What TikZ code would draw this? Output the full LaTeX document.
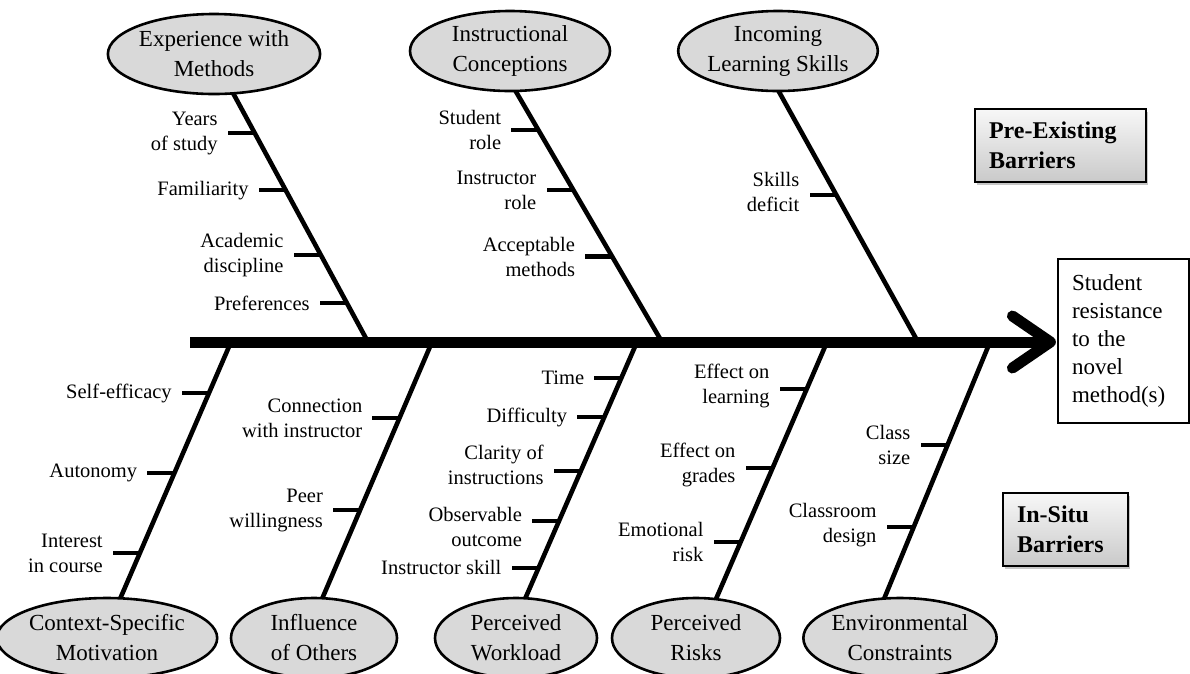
\documentclass[tikz,border=0pt]{standalone}
\usepackage{fontspec}
\setmainfont{Liberation Serif}
\usetikzlibrary{calc,shapes.geometric,shadows,backgrounds}

\tikzset{
  cause/.style={ellipse,draw,line width=2.6pt,fill=gray!30,inner sep=0pt,
    align=center,minimum height=80pt,font=\fontsize{23}{30}\selectfont},
  spine/.style={line width=11pt},
  bone/.style={line width=4.6pt},
  rib/.style={line width=4.2pt},
  lbl/.style={anchor=east,align=right,inner sep=0pt,
    font=\fontsize{20.5}{25}\selectfont},
  effect/.style={draw,line width=1.2pt,align=left,inner xsep=14pt,
    text width=103pt,minimum height=164pt,font=\fontsize{23}{28}\selectfont},
  barrier/.style={draw,line width=1.5pt,top color=gray!6,bottom color=gray!42,
    drop shadow={shadow xshift=2pt,shadow yshift=-3pt,opacity=0.45},
    align=left,inner xsep=14pt,minimum height=73pt,
    font=\fontsize{24}{30}\selectfont\bfseries}
}

\begin{document}
\begin{tikzpicture}[x=1pt,y=-1pt]
  \useasboundingbox (0,0) rectangle (1190,673);
  %% effect and spine
  \node[effect] (res) at (1123.5,341) {Student\\resistance\\to the\\novel\\method(s)};
  \coordinate (tail) at (190,342);
  \coordinate (tip) at ([xshift=-7,yshift=-1]res.west);
  \draw[spine] (tail) -- (tip);
  \draw[spine,line cap=round,line join=round]
    ($(tip)+(-38,-26)$) -- (tip) -- ($(tip)+(-38,26)$);
  %% barrier tags
  \node[barrier,text width=143pt] (pre) at (1060.5,145.5) {Pre-Existing\\Barriers};
  \node[barrier,text width=97pt] (situ) at (1065.5,529.5) {In-Situ\\Barriers};
  %% categories
  \node[cause,minimum width=200pt] (exp) at (214,54) {Experience with\\Methods};
  \node[cause,minimum width=200pt] (conc) at (510,51) {Instructional\\Conceptions};
  \node[cause,minimum width=196pt] (inc) at (778,51) {Incoming\\Learning Skills};
  \node[cause,minimum width=204pt] (mot) at (107,638) {Context-Specific\\Motivation};
  \node[cause,minimum width=166pt] (infl) at (314,638) {Influence\\of Others};
  \node[cause,minimum width=162pt] (work) at (516,638) {Perceived\\Workload};
  \node[cause,minimum width=168pt] (risk) at (696,638) {Perceived\\Risks};
  \node[cause,minimum width=184pt] (env) at (900,638) {Environmental\\Constraints};
  %% bone ends
  \coordinate (b1) at (233,93);  \coordinate (s1) at (368,342);
  \coordinate (b2) at (515,90);  \coordinate (s2) at (662,342);
  \coordinate (b3) at (778,90);  \coordinate (s3) at (918,342);
  \coordinate (sA) at (231,342); \coordinate (bA) at (120,599);
  \coordinate (sB) at (432,342); \coordinate (bB) at (322,599);
  \coordinate (sC) at (637,342); \coordinate (bC) at (525,599);
  \coordinate (sD) at (827,342); \coordinate (bD) at (716,599);
  \coordinate (sE) at (990,342); \coordinate (bE) at (884,599);
  \begin{scope}[on background layer]
    \foreach \a/\b in {b1/s1,b2/s2,b3/s3,sA/bA,sB/bB,sC/bC,sD/bD,sE/bE}
      \draw[bone] (\a) -- (\b);
  \end{scope}
  %% pre-existing causes
  \foreach \f/\txt/\dy in {0.161/{Years\\of study}/0,0.391/Familiarity/0,
      0.649/{Academic\\discipline}/0,0.843/Preferences/0}{
    \draw[rib] ($(b1)!\f!(s1)$) -- ++(-27,0) coordinate (r);
    \node[lbl,yshift=\dy] at ([xshift=-10]r) {\txt};
  }
  \foreach \f/\txt/\dy in {0.159/{Student\\role}/0,0.398/{Instructor\\role}/0,
      0.661/{Acceptable\\methods}/0}{
    \draw[rib] ($(b2)!\f!(s2)$) -- ++(-27,0) coordinate (r);
    \node[lbl,yshift=\dy] at ([xshift=-10]r) {\txt};
  }
  \foreach \f/\txt/\dy in {0.418/{Skills\\deficit}/3}{
    \draw[rib] ($(b3)!\f!(s3)$) -- ++(-27,0) coordinate (r);
    \node[lbl,yshift=\dy] at ([xshift=-10]r) {\txt};
  }
  %% in-situ causes
  \foreach \f/\txt/\dy in {0.199/Self-efficacy/0,0.510/Autonomy/0,
      0.821/{Interest\\in course}/0}{
    \draw[rib] ($(sA)!\f!(bA)$) -- ++(-27,0) coordinate (r);
    \node[lbl,yshift=\dy] at ([xshift=-10]r) {\txt};
  }
  \foreach \f/\txt/\dy in {0.296/{Connection\\with instructor}/0,
      0.654/{Peer\\willingness}/0}{
    \draw[rib] ($(sB)!\f!(bB)$) -- ++(-27,0) coordinate (r);
    \node[lbl,yshift=\dy] at ([xshift=-10]r) {\txt};
  }
  \foreach \f/\txt/\dy in {0.140/Time/0,0.292/Difficulty/0,
      0.502/{Clarity of\\instructions}/6,0.696/{Observable\\outcome}/-6,
      0.879/Instructor skill/0}{
    \draw[rib] ($(sC)!\f!(bC)$) -- ++(-27,0) coordinate (r);
    \node[lbl,yshift=\dy] at ([xshift=-10]r) {\txt};
  }
  \foreach \f/\txt/\dy in {0.183/{Effect on\\learning}/3,0.490/{Effect on\\grades}/3,
      0.778/{Emotional\\risk}/0}{
    \draw[rib] ($(sD)!\f!(bD)$) -- ++(-27,0) coordinate (r);
    \node[lbl,yshift=\dy] at ([xshift=-10]r) {\txt};
  }
  \foreach \f/\txt/\dy in {0.401/{Class\\size}/0,0.720/{Classroom\\design}/2}{
    \draw[rib] ($(sE)!\f!(bE)$) -- ++(-27,0) coordinate (r);
    \node[lbl,yshift=\dy] at ([xshift=-10]r) {\txt};
  }
\end{tikzpicture}
\end{document}
